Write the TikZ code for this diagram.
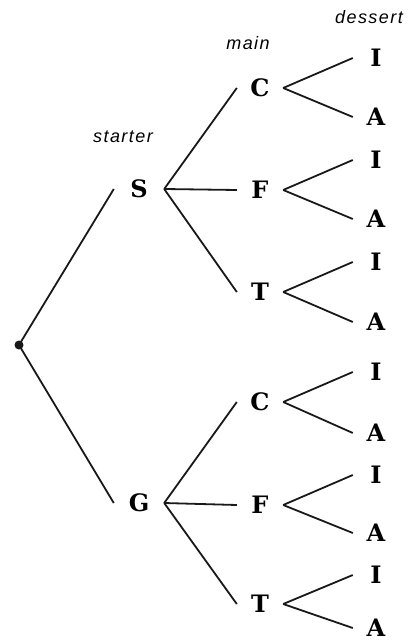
\documentclass[tikz,border=0pt]{standalone}
\usepackage{fontspec}
\newfontfamily\stagefont[LetterSpace=8]{Liberation Sans}
\newfontfamily\choicefont{DejaVu Serif}
\usetikzlibrary{positioning}

\begin{document}
\begin{tikzpicture}[
  x=1pt, y=-1pt,
  choice/.style={font=\fontsize{24}{26}\selectfont\choicefont\bfseries, inner sep=0pt, minimum width=46pt, minimum height=18pt},
  stage/.style={font=\fontsize{18}{20}\selectfont\stagefont\itshape, inner sep=0pt},
  branch/.style={line width=1.8pt, black!90}
]
\useasboundingbox (0,0) rectangle (409,644);
% column headings
\node[stage] (starterlbl) at (123,137) {starter};
\node[stage] (mainlbl) at (248,43) {main};
\node[stage] (dessertlbl) at (369,17) {dessert};
% root and starters
\node[circle, fill=black!90, inner sep=0pt, minimum size=9pt] (root) at (19,345) {};
\node[choice, minimum width=50pt] (S) at (139,189) {S};
\node[choice, minimum width=50pt] (G) at (139,503) {G};
\draw[branch] (root.center) -- (S.west);
\draw[branch] (root.center) -- (G.west);
% mains
\node[choice] (SC) at (260,88) {C};
\node[choice] (SF) at (260,190) {F};
\node[choice] (ST) at (260,292) {T};
\node[choice] (GC) at (260,402) {C};
\node[choice] (GF) at (260,505) {F};
\node[choice] (GT) at (260,604) {T};
\foreach \m in {C,F,T}{
  \draw[branch] (S.east) -- (S\m.west);
  \draw[branch] (G.east) -- (G\m.west);
}
% desserts
\foreach \m/\yi/\ya in {SC/58/117, SF/160/219, ST/262/322, GC/372/433, GF/475/533, GT/575/628}{
  \node[choice] (\m I) at (376,\yi) {I};
  \node[choice] (\m A) at (376,\ya) {A};
  \draw[branch] (\m.east) -- (\m I.west);
  \draw[branch] (\m.east) -- (\m A.west);
}
\end{tikzpicture}
\end{document}
